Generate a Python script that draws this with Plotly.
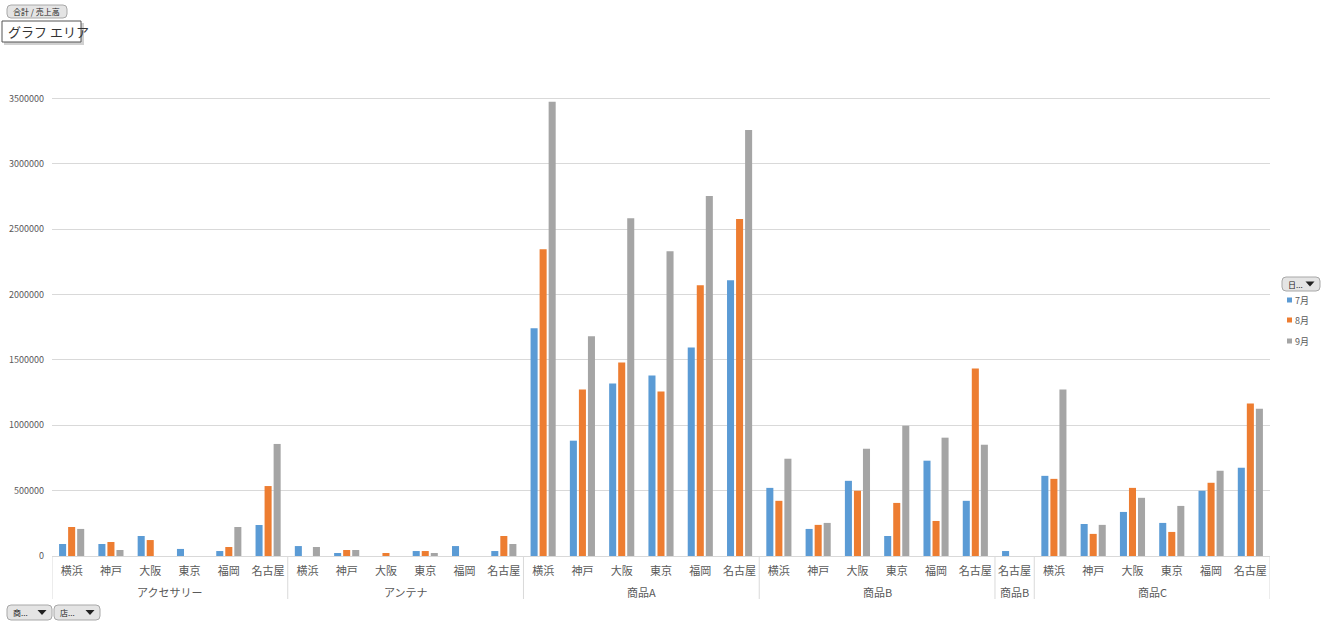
import plotly.graph_objects as go

# ---- data ----
groups = ["アクセサリー"] * 6 + ["アンテナ"] * 6 + ["商品A"] * 6 + ["商品B"] * 6 + ["商品B"] + ["商品C"] * 6
group_id = [0] * 6 + [1] * 6 + [2] * 6 + [3] * 6 + [4] + [5] * 6
stores = ["横浜", "神戸", "大阪", "東京", "福岡", "名古屋"]
subs = stores * 4 + ["名古屋"] + stores

jul = [92000, 92000, 153000, 54000, 38000, 237000,
       76000, 23000, None, 38000, 76000, 38000,
       1741000, 882000, 1319000, 1380000, 1595000, 2109000,
       521000, 207000, 575000, 153000, 729000, 422000,
       38000,
       613000, 245000, 337000, 253000, 499000, 675000]
aug = [222000, 107000, 122000, None, 69000, 535000,
       None, 46000, 23000, 38000, None, 153000,
       2347000, 1273000, 1480000, 1258000, 2071000, 2577000,
       422000, 238000, 499000, 406000, 268000, 1434000,
       None,
       590000, 169000, 521000, 184000, 560000, 1166000]
sep = [207000, 46000, None, None, 222000, 857000,
       69000, 46000, None, 23000, None, 92000,
       3474000, 1680000, 2584000, 2331000, 2753000, 3259000,
       744000, 253000, 821000, 997000, 905000, 851000,
       None,
       1273000, 238000, 445000, 383000, 652000, 1127000]

series_names = ["7月", "8月", "9月"]
series_vals = [jul, aug, sep]
colors = ["#5B9BD5", "#ED7D31", "#A5A5A5"]

y_ticks = [0, 500000, 1000000, 1500000, 2000000, 2500000, 3000000, 3500000, 4000000]
y_ticktext = [str(v) for v in y_ticks[:-1]] + [""]

FONT = "Noto Sans CJK JP"
W, H = 1328, 627
L, R, T, B = 52, 1270, 33, 556

idx = list(range(len(subs)))


def px(x):
    return (x - L) / (R - L)


def py(y):
    return (B - y) / (B - T)


def rrect(x0, y0, x1, y1, r):
    pts = [
        f"M{px(x0 + r)},{py(y0)}",
        f"L{px(x1 - r)},{py(y0)}",
        f"Q{px(x1)},{py(y0)} {px(x1)},{py(y0 + r)}",
        f"L{px(x1)},{py(y1 - r)}",
        f"Q{px(x1)},{py(y1)} {px(x1 - r)},{py(y1)}",
        f"L{px(x0 + r)},{py(y1)}",
        f"Q{px(x0)},{py(y1)} {px(x0)},{py(y1 - r)}",
        f"L{px(x0)},{py(y0 + r)}",
        f"Q{px(x0)},{py(y0)} {px(x0 + r)},{py(y0)}",
        "Z",
    ]
    return " ".join(pts)


def tri(cx, cy, w, h):
    return f"M{px(cx - w / 2)},{py(cy - h / 2)} L{px(cx + w / 2)},{py(cy - h / 2)} L{px(cx)},{py(cy + h / 2)} Z"


fig = go.Figure()
for name, vals, c in zip(series_names, series_vals, colors):
    fig.add_trace(go.Bar(x=idx, y=vals, name=name, marker_color=c,
                         marker_line_width=0, showlegend=False,
                         customdata=[[g, s] for g, s in zip(groups, subs)],
                         hovertemplate="%{customdata[0]} %{customdata[1]}<br>" + name + ": %{y}<extra></extra>"))

shapes = []
annotations = []

# group dividers and group labels (second level of the category axis)
bounds = [0]
for i in range(1, len(group_id)):
    if group_id[i] != group_id[i - 1]:
        bounds.append(i)
bounds.append(len(group_id))
for b in bounds:
    shapes.append(dict(type="line", xref="x", yref="paper", x0=b - 0.5, x1=b - 0.5,
                       y0=0, y1=py(599), line=dict(color="#D9D9D9", width=1), layer="above"))
for a, b in zip(bounds[:-1], bounds[1:]):
    annotations.append(dict(x=(a + b - 1) / 2, y=py(592), xref="x", yref="paper", text=groups[a],
                            showarrow=False, xanchor="center", yanchor="middle",
                            font=dict(family=FONT, size=11, color="#595959")))


def button(x0, y0, x1, y1, label, arrow=True, size=8):
    shapes.append(dict(type="path", xref="paper", yref="paper", path=rrect(x0, y0, x1, y1, 4),
                       fillcolor="#E4E4E4", line=dict(color="#A8A8A8", width=1), layer="above"))
    annotations.append(dict(x=px(x0 + 4), y=py((y0 + y1) / 2), xref="paper", yref="paper",
                            text=label, showarrow=False, xanchor="left", yanchor="middle",
                            font=dict(family=FONT, size=size, color="#222222")))
    if arrow:
        shapes.append(dict(type="path", xref="paper", yref="paper", path=tri(x1 - 10, (y0 + y1) / 2, 9, 5),
                           fillcolor="#222222", line=dict(width=0), layer="above"))


button(7, 5, 67, 18, "合計 / 売上高", arrow=False, size=8)
button(7, 605, 52, 620, "商...")
button(54, 605, 100, 620, "店...")
button(1282, 277, 1320, 291, "日...")

# tooltip "グラフ エリア"
shapes.append(dict(type="rect", xref="paper", yref="paper", x0=px(4), x1=px(84), y0=py(23), y1=py(45),
                   fillcolor="#D0D0D0", line=dict(width=0), layer="above"))
shapes.append(dict(type="rect", xref="paper", yref="paper", x0=px(2), x1=px(81), y0=py(21), y1=py(42),
                   fillcolor="#FFFFFF", line=dict(color="#555555", width=1), layer="above"))
annotations.append(dict(x=px(6), y=py(31.5), xref="paper", yref="paper", text="グラフ エリア",
                        showarrow=False, xanchor="left", yanchor="middle",
                        font=dict(family=FONT, size=13, color="#333333")))

# custom legend
leg_y = [300, 320, 341]
for name, c, yy in zip(series_names, colors, leg_y):
    shapes.append(dict(type="rect", xref="paper", yref="paper", x0=px(1287), x1=px(1292),
                       y0=py(yy - 2.5), y1=py(yy + 2.5), fillcolor=c, line=dict(width=0), layer="above"))
    annotations.append(dict(x=px(1293), y=py(yy), xref="paper", yref="paper", text=name,
                            showarrow=False, xanchor="left", yanchor="middle",
                            font=dict(family=FONT, size=9, color="#595959")))

fig.update_layout(
    width=W, height=H,
    margin=dict(l=L, r=W - R, t=T, b=H - B, pad=0),
    paper_bgcolor="white", plot_bgcolor="white",
    barmode="group", bargap=0.31, bargroupgap=0.22,
    font=dict(family=FONT, color="#595959"),
    shapes=shapes, annotations=annotations,
    showlegend=False,
    xaxis=dict(range=[-0.5, len(subs) - 0.5], tickvals=idx, ticktext=subs,
               showline=True, linecolor="#D9D9D9", linewidth=1, zeroline=False,
               showgrid=False, ticks="", tickangle=0, ticklabelstandoff=5,
               tickfont=dict(family=FONT, size=11, color="#595959"), automargin=False),
    yaxis=dict(range=[0, 4000000], tickvals=y_ticks, ticktext=y_ticktext, showline=False,
               gridcolor="#D9D9D9", gridwidth=1, zeroline=False, ticks="",
               tickfont=dict(family=FONT, size=9, color="#595959"), ticklabelstandoff=7,
               automargin=False),
)

fig.write_html("out.html")
